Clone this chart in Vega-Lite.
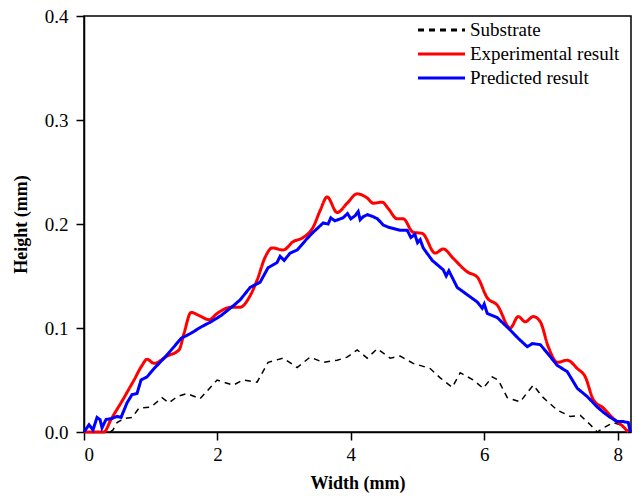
{
  "$schema": "https://vega.github.io/schema/vega-lite/v6.json",
  "autosize": "none",
  "width": 547,
  "height": 416,
  "padding": {"left": 84, "top": 16, "right": 12, "bottom": 64},
  "background": "white",
  "config": {
    "font": "Liberation Serif",
    "view": {"stroke": "black", "strokeWidth": 1.5},
    "axis": {
      "grid": false,
      "domainColor": "black",
      "domainWidth": 1.5,
      "tickColor": "black",
      "tickWidth": 1.5,
      "tickSize": 8,
      "labelFont": "Liberation Serif",
      "labelFontSize": 19,
      "labelColor": "black",
      "titleFont": "Liberation Serif",
      "titleFontSize": 18,
      "titleFontWeight": "bold",
      "titleColor": "black"
    }
  },
  "data": {
    "values": [
      {"series": "Substrate", "x": 0.39, "y": 0.0},
      {"series": "Substrate", "x": 0.435, "y": 0.002},
      {"series": "Substrate", "x": 0.495, "y": 0.009},
      {"series": "Substrate", "x": 0.60, "y": 0.013},
      {"series": "Substrate", "x": 0.72, "y": 0.014},
      {"series": "Substrate", "x": 0.825, "y": 0.023},
      {"series": "Substrate", "x": 1.005, "y": 0.024},
      {"series": "Substrate", "x": 1.17, "y": 0.033},
      {"series": "Substrate", "x": 1.275, "y": 0.028},
      {"series": "Substrate", "x": 1.395, "y": 0.034},
      {"series": "Substrate", "x": 1.545, "y": 0.037},
      {"series": "Substrate", "x": 1.74, "y": 0.032},
      {"series": "Substrate", "x": 1.995, "y": 0.050},
      {"series": "Substrate", "x": 2.235, "y": 0.045},
      {"series": "Substrate", "x": 2.385, "y": 0.050},
      {"series": "Substrate", "x": 2.595, "y": 0.048},
      {"series": "Substrate", "x": 2.76, "y": 0.067},
      {"series": "Substrate", "x": 2.985, "y": 0.071},
      {"series": "Substrate", "x": 3.195, "y": 0.062},
      {"series": "Substrate", "x": 3.39, "y": 0.072},
      {"series": "Substrate", "x": 3.585, "y": 0.067},
      {"series": "Substrate", "x": 3.795, "y": 0.069},
      {"series": "Substrate", "x": 3.945, "y": 0.072},
      {"series": "Substrate", "x": 4.095, "y": 0.079},
      {"series": "Substrate", "x": 4.245, "y": 0.071},
      {"series": "Substrate", "x": 4.395, "y": 0.080},
      {"series": "Substrate", "x": 4.59, "y": 0.071},
      {"series": "Substrate", "x": 4.74, "y": 0.073},
      {"series": "Substrate", "x": 4.935, "y": 0.066},
      {"series": "Substrate", "x": 5.19, "y": 0.061},
      {"series": "Substrate", "x": 5.34, "y": 0.052},
      {"series": "Substrate", "x": 5.52, "y": 0.043},
      {"series": "Substrate", "x": 5.64, "y": 0.057},
      {"series": "Substrate", "x": 5.835, "y": 0.050},
      {"series": "Substrate", "x": 5.985, "y": 0.042},
      {"series": "Substrate", "x": 6.12, "y": 0.053},
      {"series": "Substrate", "x": 6.21, "y": 0.050},
      {"series": "Substrate", "x": 6.345, "y": 0.033},
      {"series": "Substrate", "x": 6.54, "y": 0.029},
      {"series": "Substrate", "x": 6.645, "y": 0.038},
      {"series": "Substrate", "x": 6.735, "y": 0.045},
      {"series": "Substrate", "x": 6.885, "y": 0.033},
      {"series": "Substrate", "x": 7.095, "y": 0.021},
      {"series": "Substrate", "x": 7.29, "y": 0.015},
      {"series": "Substrate", "x": 7.44, "y": 0.016},
      {"series": "Substrate", "x": 7.59, "y": 0.007},
      {"series": "Substrate", "x": 7.695, "y": 0.0},
      {"series": "Substrate", "x": 7.785, "y": 0.004},
      {"series": "Substrate", "x": 7.935, "y": 0.009},
      {"series": "Substrate", "x": 8.04, "y": 0.007},
      {"series": "Substrate", "x": 8.16, "y": 0.0},

      {"series": "Experimental result", "x": 0.0, "y": 0.0},
      {"series": "Experimental result", "x": 0.30, "y": 0.0},
      {"series": "Experimental result", "x": 0.40, "y": 0.0115},
      {"series": "Experimental result", "x": 0.60, "y": 0.033},
      {"series": "Experimental result", "x": 0.75, "y": 0.050},
      {"series": "Experimental result", "x": 0.87, "y": 0.064},
      {"series": "Experimental result", "x": 0.945, "y": 0.070},
      {"series": "Experimental result", "x": 1.05, "y": 0.066},
      {"series": "Experimental result", "x": 1.245, "y": 0.073},
      {"series": "Experimental result", "x": 1.425, "y": 0.079},
      {"series": "Experimental result", "x": 1.50, "y": 0.095},
      {"series": "Experimental result", "x": 1.605, "y": 0.115},
      {"series": "Experimental result", "x": 1.725, "y": 0.112},
      {"series": "Experimental result", "x": 1.875, "y": 0.108},
      {"series": "Experimental result", "x": 1.995, "y": 0.114},
      {"series": "Experimental result", "x": 2.205, "y": 0.120},
      {"series": "Experimental result", "x": 2.34, "y": 0.120},
      {"series": "Experimental result", "x": 2.49, "y": 0.131},
      {"series": "Experimental result", "x": 2.595, "y": 0.146},
      {"series": "Experimental result", "x": 2.715, "y": 0.168},
      {"series": "Experimental result", "x": 2.82, "y": 0.177},
      {"series": "Experimental result", "x": 2.985, "y": 0.175},
      {"series": "Experimental result", "x": 3.135, "y": 0.183},
      {"series": "Experimental result", "x": 3.285, "y": 0.187},
      {"series": "Experimental result", "x": 3.435, "y": 0.197},
      {"series": "Experimental result", "x": 3.54, "y": 0.213},
      {"series": "Experimental result", "x": 3.645, "y": 0.226},
      {"series": "Experimental result", "x": 3.795, "y": 0.211},
      {"series": "Experimental result", "x": 3.945, "y": 0.220},
      {"series": "Experimental result", "x": 4.095, "y": 0.229},
      {"series": "Experimental result", "x": 4.245, "y": 0.225},
      {"series": "Experimental result", "x": 4.335, "y": 0.220},
      {"series": "Experimental result", "x": 4.47, "y": 0.221},
      {"series": "Experimental result", "x": 4.56, "y": 0.215},
      {"series": "Experimental result", "x": 4.695, "y": 0.205},
      {"series": "Experimental result", "x": 4.785, "y": 0.205},
      {"series": "Experimental result", "x": 4.935, "y": 0.192},
      {"series": "Experimental result", "x": 5.07, "y": 0.191},
      {"series": "Experimental result", "x": 5.265, "y": 0.172},
      {"series": "Experimental result", "x": 5.385, "y": 0.176},
      {"series": "Experimental result", "x": 5.535, "y": 0.167},
      {"series": "Experimental result", "x": 5.745, "y": 0.154},
      {"series": "Experimental result", "x": 5.895, "y": 0.149},
      {"series": "Experimental result", "x": 6.045, "y": 0.129},
      {"series": "Experimental result", "x": 6.195, "y": 0.122},
      {"series": "Experimental result", "x": 6.39, "y": 0.100},
      {"series": "Experimental result", "x": 6.51, "y": 0.111},
      {"series": "Experimental result", "x": 6.615, "y": 0.106},
      {"series": "Experimental result", "x": 6.735, "y": 0.111},
      {"series": "Experimental result", "x": 6.84, "y": 0.106},
      {"series": "Experimental result", "x": 6.96, "y": 0.082},
      {"series": "Experimental result", "x": 7.095, "y": 0.067},
      {"series": "Experimental result", "x": 7.245, "y": 0.069},
      {"series": "Experimental result", "x": 7.395, "y": 0.061},
      {"series": "Experimental result", "x": 7.515, "y": 0.053},
      {"series": "Experimental result", "x": 7.635, "y": 0.031},
      {"series": "Experimental result", "x": 7.785, "y": 0.023},
      {"series": "Experimental result", "x": 7.935, "y": 0.013},
      {"series": "Experimental result", "x": 8.085, "y": 0.005},
      {"series": "Experimental result", "x": 8.16, "y": 0.0},

      {"series": "Predicted result", "x": 0.0, "y": 0.0},
      {"series": "Predicted result", "x": 0.075, "y": 0.007},
      {"series": "Predicted result", "x": 0.135, "y": 0.002},
      {"series": "Predicted result", "x": 0.195, "y": 0.014},
      {"series": "Predicted result", "x": 0.24, "y": 0.012},
      {"series": "Predicted result", "x": 0.27, "y": 0.004},
      {"series": "Predicted result", "x": 0.33, "y": 0.012},
      {"series": "Predicted result", "x": 0.42, "y": 0.013},
      {"series": "Predicted result", "x": 0.495, "y": 0.015},
      {"series": "Predicted result", "x": 0.555, "y": 0.014},
      {"series": "Predicted result", "x": 0.645, "y": 0.028},
      {"series": "Predicted result", "x": 0.72, "y": 0.036},
      {"series": "Predicted result", "x": 0.795, "y": 0.037},
      {"series": "Predicted result", "x": 0.855, "y": 0.050},
      {"series": "Predicted result", "x": 0.945, "y": 0.053},
      {"series": "Predicted result", "x": 1.05, "y": 0.061},
      {"series": "Predicted result", "x": 1.20, "y": 0.071},
      {"series": "Predicted result", "x": 1.35, "y": 0.082},
      {"series": "Predicted result", "x": 1.455, "y": 0.090},
      {"series": "Predicted result", "x": 1.605, "y": 0.095},
      {"series": "Predicted result", "x": 1.755, "y": 0.101},
      {"series": "Predicted result", "x": 1.905, "y": 0.106},
      {"series": "Predicted result", "x": 2.055, "y": 0.112},
      {"series": "Predicted result", "x": 2.25, "y": 0.122},
      {"series": "Predicted result", "x": 2.34, "y": 0.127},
      {"series": "Predicted result", "x": 2.49, "y": 0.139},
      {"series": "Predicted result", "x": 2.64, "y": 0.144},
      {"series": "Predicted result", "x": 2.76, "y": 0.158},
      {"series": "Predicted result", "x": 2.895, "y": 0.163},
      {"series": "Predicted result", "x": 2.94, "y": 0.169},
      {"series": "Predicted result", "x": 3.0, "y": 0.165},
      {"series": "Predicted result", "x": 3.09, "y": 0.172},
      {"series": "Predicted result", "x": 3.195, "y": 0.175},
      {"series": "Predicted result", "x": 3.345, "y": 0.186},
      {"series": "Predicted result", "x": 3.435, "y": 0.192},
      {"series": "Predicted result", "x": 3.585, "y": 0.201},
      {"series": "Predicted result", "x": 3.66, "y": 0.200},
      {"series": "Predicted result", "x": 3.70, "y": 0.206},
      {"series": "Predicted result", "x": 3.76, "y": 0.203},
      {"series": "Predicted result", "x": 3.885, "y": 0.206},
      {"series": "Predicted result", "x": 3.95, "y": 0.210},
      {"series": "Predicted result", "x": 4.0, "y": 0.205},
      {"series": "Predicted result", "x": 4.065, "y": 0.208},
      {"series": "Predicted result", "x": 4.11, "y": 0.212},
      {"series": "Predicted result", "x": 4.14, "y": 0.204},
      {"series": "Predicted result", "x": 4.185, "y": 0.207},
      {"series": "Predicted result", "x": 4.25, "y": 0.209},
      {"series": "Predicted result", "x": 4.335, "y": 0.207},
      {"series": "Predicted result", "x": 4.40, "y": 0.205},
      {"series": "Predicted result", "x": 4.485, "y": 0.199},
      {"series": "Predicted result", "x": 4.56, "y": 0.197},
      {"series": "Predicted result", "x": 4.74, "y": 0.194},
      {"series": "Predicted result", "x": 4.845, "y": 0.194},
      {"series": "Predicted result", "x": 4.90, "y": 0.187},
      {"series": "Predicted result", "x": 4.96, "y": 0.190},
      {"series": "Predicted result", "x": 5.0, "y": 0.182},
      {"series": "Predicted result", "x": 5.04, "y": 0.185},
      {"series": "Predicted result", "x": 5.085, "y": 0.177},
      {"series": "Predicted result", "x": 5.22, "y": 0.165},
      {"series": "Predicted result", "x": 5.385, "y": 0.156},
      {"series": "Predicted result", "x": 5.43, "y": 0.150},
      {"series": "Predicted result", "x": 5.47, "y": 0.155},
      {"series": "Predicted result", "x": 5.595, "y": 0.139},
      {"series": "Predicted result", "x": 5.745, "y": 0.132},
      {"series": "Predicted result", "x": 5.895, "y": 0.125},
      {"series": "Predicted result", "x": 5.97, "y": 0.119},
      {"series": "Predicted result", "x": 6.0, "y": 0.123},
      {"series": "Predicted result", "x": 6.045, "y": 0.114},
      {"series": "Predicted result", "x": 6.195, "y": 0.110},
      {"series": "Predicted result", "x": 6.39, "y": 0.098},
      {"series": "Predicted result", "x": 6.51, "y": 0.090},
      {"series": "Predicted result", "x": 6.645, "y": 0.082},
      {"series": "Predicted result", "x": 6.72, "y": 0.085},
      {"series": "Predicted result", "x": 6.84, "y": 0.084},
      {"series": "Predicted result", "x": 6.945, "y": 0.076},
      {"series": "Predicted result", "x": 7.095, "y": 0.064},
      {"series": "Predicted result", "x": 7.245, "y": 0.058},
      {"series": "Predicted result", "x": 7.395, "y": 0.042},
      {"series": "Predicted result", "x": 7.545, "y": 0.034},
      {"series": "Predicted result", "x": 7.695, "y": 0.024},
      {"series": "Predicted result", "x": 7.785, "y": 0.019},
      {"series": "Predicted result", "x": 7.89, "y": 0.014},
      {"series": "Predicted result", "x": 7.995, "y": 0.010},
      {"series": "Predicted result", "x": 8.085, "y": 0.010},
      {"series": "Predicted result", "x": 8.16, "y": 0.009},
      {"series": "Predicted result", "x": 8.19, "y": 0.0}
    ]
  },
  "encoding": {
    "x": {
      "field": "x", "type": "quantitative",
      "scale": {"domain": [0, 8.2], "nice": false, "zero": false},
      "axis": {"values": [0, 2, 4, 6, 8], "format": "d", "title": "Width (mm)", "labelPadding": 5, "titlePadding": 10}
    },
    "y": {
      "field": "y", "type": "quantitative",
      "scale": {"domain": [0, 0.4], "nice": false},
      "axis": {"values": [0, 0.1, 0.2, 0.3, 0.4], "format": ".1f", "title": "Height (mm)", "labelPadding": 8, "titlePadding": 14}
    },
    "color": {
      "field": "series", "type": "nominal",
      "scale": {"domain": ["Substrate", "Experimental result", "Predicted result"], "range": ["#000000", "#ff0000", "#0000ff"]},
      "legend": {
        "title": null,
        "orient": "none",
        "legendX": 332.5,
        "legendY": 4,
        "padding": 0,
        "symbolType": "stroke",
        "symbolSize": 2209,
        "symbolStrokeWidth": 3,
        "clipHeight": 20,
        "rowPadding": 4,
        "labelOffset": 3.5,
        "labelFont": "Liberation Serif",
        "labelFontSize": 19,
        "labelColor": "black",
        "labelLimit": 300,
        "fillColor": null,
        "strokeColor": null
      }
    },
    "strokeDash": {
      "field": "series", "type": "nominal",
      "scale": {"domain": ["Substrate", "Experimental result", "Predicted result"], "range": [[6, 5], [1, 0], [1, 0]]},
      "legend": null
    },
    "order": {"field": "x", "type": "quantitative"}
  },
  "layer": [
    {"transform": [{"filter": "datum.series === 'Substrate'"}], "mark": {"type": "line", "strokeWidth": 1.5}},
    {"transform": [{"filter": "datum.series === 'Experimental result'"}], "mark": {"type": "line", "strokeWidth": 3, "interpolate": "monotone"}},
    {"transform": [{"filter": "datum.series === 'Predicted result'"}], "mark": {"type": "line", "strokeWidth": 3}}
  ]
}
